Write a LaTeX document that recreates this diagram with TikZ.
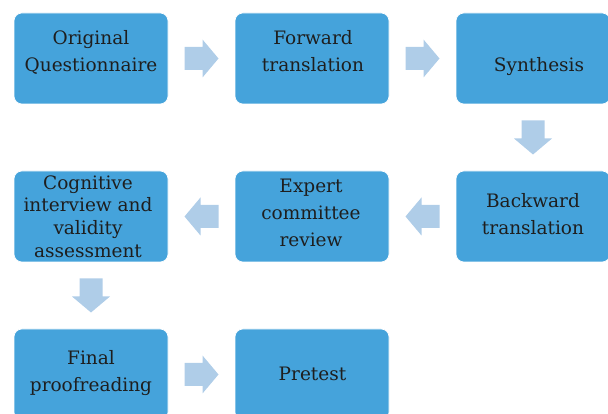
\documentclass[tikz,border=0pt]{standalone}
\usepackage{fontspec}
\newfontfamily\boxfont{DejaVu Serif}
\usetikzlibrary{calc}
\definecolor{boxblue}{HTML}{45A3DB}
\definecolor{arrowblue}{HTML}{AFCDE8}
\definecolor{txt}{HTML}{1E1E1E}
\begin{document}
\begin{tikzpicture}[x=1pt,y=1pt,
  stepbox/.style={rectangle, rounded corners=8pt, minimum width=154pt, minimum height=91pt,
    inner sep=0pt, fill=boxblue, draw=white, line width=0.6pt},
  boxtext/.style={anchor=north, align=center, inner sep=0pt, text=txt,
    font=\boxfont\fontsize{18.5}{27}\selectfont},
  tighttext/.style={boxtext, font=\boxfont\fontsize{18.5}{22.6}\selectfont},
  barrow/.pic={\fill[arrowblue] (-17,-11.5) -- (1,-11.5) -- (1,-19) -- (17,0) -- (1,19) -- (1,11.5) -- (-17,11.5) -- cycle;}]
\useasboundingbox (0,0) rectangle (608,414);
\clip (0,0) rectangle (608,414);
% boxes
\node[stepbox] (b1) at (91,355.5) {};
\node[stepbox] (b2) at (312,355.5) {};
\node[stepbox] (b3) at (533,355.5) {};
\node[stepbox] (b4) at (533,197.5) {};
\node[stepbox] (b5) at (312,197.5) {};
\node[stepbox] (b6) at (91,197.5) {};
\node[stepbox] (b7) at (91,39.5) {};
\node[stepbox] (b8) at (312,39.5) {};
% texts
\node[boxtext] (t1) at (91,388.6) {\strut Original\\Questionnaire};
\node[boxtext] (t2) at (313,388.6) {\strut Forward\\translation};
\node[boxtext] (t3) at (539,361.9) {\strut Synthesis};
\node[boxtext] (t4) at (533,225.9) {\strut Backward\\translation};
\node[boxtext] (t5) at (311,240.2) {\strut Expert\\committee\\review};
\node[tighttext] (t6) at (88,240.8) {\strut Cognitive\\interview and\\validity\\assessment};
\node[boxtext] (t7) at (91,68.6) {\strut Final\\proofreading};
\node[boxtext] (t8) at (312.5,52.9) {\strut Pretest};
% block arrows
\pic at ($(b1.east)!0.5!(b2.west)$) {barrow};
\pic at ($(b2.east)!0.5!(b3.west)$) {barrow};
\pic[rotate=-90] at ($(b3.south)!0.5!(b4.north)$) {barrow};
\pic[rotate=180] at ($(b4.west)!0.5!(b5.east)$) {barrow};
\pic[rotate=180] at ($(b5.west)!0.5!(b6.east)$) {barrow};
\pic[rotate=-90] at ($(b6.south)!0.5!(b7.north)$) {barrow};
\pic at ($(b7.east)!0.5!(b8.west)$) {barrow};
\end{tikzpicture}
\end{document}
